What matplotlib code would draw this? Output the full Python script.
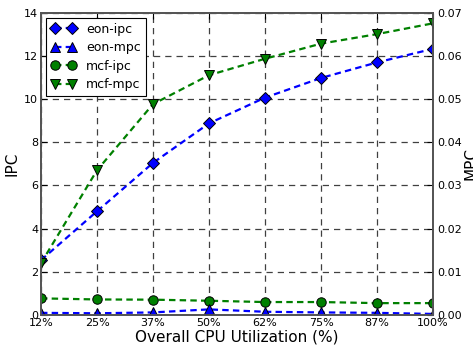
import matplotlib.pyplot as plt

util = ["12%", "25%", "37%", "50%", "62%", "75%", "87%", "100%"]

eon_ipc = [2.54, 4.8, 7.04, 8.87, 10.06, 10.97, 11.69, 12.32]
mcf_ipc = [0.77, 0.72, 0.71, 0.66, 0.60, 0.60, 0.55, 0.55]

eon_mpc = [0.0005, 0.0004, 0.0006, 0.0013, 0.00075, 0.0006, 0.0005, 0.00025]
mcf_mpc = [0.012, 0.0335, 0.0488, 0.0555, 0.0593, 0.0628, 0.065, 0.0675]

x = list(range(len(util)))

fig = plt.figure(figsize=(4.73, 3.48), dpi=100)
ax = fig.add_axes([0.0867, 0.0948, 0.8287, 0.8692])
ax2 = ax.twinx()

dash = (0, (2.9, 1.9))
style = dict(ls=dash, lw=1.6, mec="k", mew=0.7)
l1, = ax.plot(x, eon_ipc, color="b", marker="D", ms=6.2, **style)
l3, = ax.plot(x, mcf_ipc, color="g", marker="o", ms=6.8, **style)
l2, = ax2.plot(x, eon_mpc, color="b", marker="^", ms=6.8, **style)
l4, = ax2.plot(x, mcf_mpc, color="g", marker="v", ms=6.8, **style)

ax.set_xlim(0, 7)
ax.set_ylim(0, 14)
ax2.set_ylim(0, 0.07)
ax.set_xticks(x)
ax.set_xticklabels(util)
ax.set_yticks(range(0, 15, 2))
ax2.set_yticks([i * 0.01 for i in range(8)])
ax2.set_yticklabels(["%.2f" % (i * 0.01) for i in range(8)])

ax.grid(True, color="#404040", linestyle=(0, (5, 4)), linewidth=0.9)
ax.tick_params(direction="in", labelsize=8, top=True, length=4, pad=2)
ax2.tick_params(direction="in", labelsize=8, length=4, pad=3)

ax.set_xlabel("Overall CPU Utilization (%)", fontsize=11, labelpad=1)
ax.set_ylabel("IPC", fontsize=11, labelpad=3)
ax2.set_ylabel("MPC", fontsize=11, labelpad=1)

for a in (ax, ax2):
    for s in a.spines.values():
        s.set_color("#555555")
        s.set_linewidth(1.3)

leg = ax2.legend([l1, l2, l3, l4], ["eon-ipc", "eon-mpc", "mcf-ipc", "mcf-mpc"],
                 loc="upper left", numpoints=2, fontsize=9, fancybox=False,
                 framealpha=1, edgecolor="k", handlelength=2.0,
                 borderaxespad=0.4, labelspacing=0.45, borderpad=0.4)
leg.get_frame().set_linewidth(0.8)

fig.savefig("out.png", dpi=100)
